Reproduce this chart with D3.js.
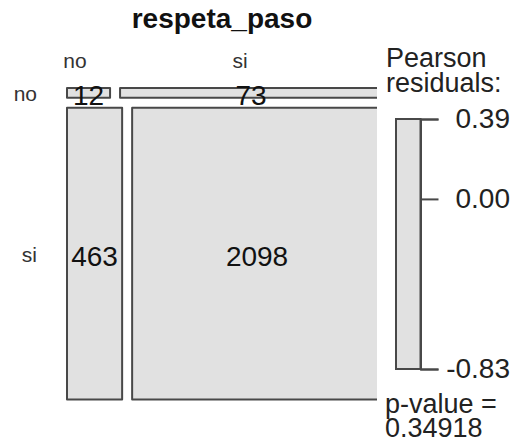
<!DOCTYPE html>
<html>
<head>
<meta charset="utf-8">
<script src="https://cdn.jsdelivr.net/npm/d3@7"></script>
<style>
  html, body { margin: 0; padding: 0; background: #fff; }
  svg { display: block; font-family: "Liberation Sans", Arial, Helvetica, sans-serif; }
</style>
</head>
<body>
<svg id="chart" width="517" height="446"></svg>
<script>
// ---- data ----
const title = "respeta_paso";
const rowCats = ["no", "si"];
const colCats = ["no", "si"];
const counts = [
  [12, 73],
  [463, 2098]
];
const residualRange = [-0.83, 0.39];
const residualTicks = [0.39, 0.00, -0.83];
const legendTitle = ["Pearson", "residuals:"];
const pValueLines = ["p-value =", "0.34918"];

// ---- layout ----
const svg = d3.select("#chart");
const X0 = 67, X1 = 382, Y0 = 88, Y1 = 399.5, GAP = 10;
const CLIP_X = 377;
const fill = "#e1e1e1", stroke = "#484848";

const rowTotals = counts.map(r => d3.sum(r));
const total = d3.sum(rowTotals);

const availH = (Y1 - Y0) - GAP * (rowCats.length - 1);
const yProp = d3.scaleLinear().domain([0, 1]).range([0, availH]);

svg.append("defs").append("clipPath").attr("id", "plotclip")
  .append("rect").attr("x", 0).attr("y", 0).attr("width", CLIP_X).attr("height", 446);

const tilesG = svg.append("g").attr("clip-path", "url(#plotclip)");
const labelsG = svg.append("g");

const tiles = [];
let cumRow = 0;
rowCats.forEach((rc, i) => {
  const y = Y0 + yProp(cumRow / total) + i * GAP;
  const h = yProp(rowTotals[i] / total);
  cumRow += rowTotals[i];
  const availW = (X1 - X0) - GAP * (colCats.length - 1);
  const xProp = d3.scaleLinear().domain([0, rowTotals[i]]).range([0, availW]);
  let cumCol = 0;
  colCats.forEach((cc, j) => {
    const x = X0 + xProp(cumCol) + j * GAP;
    const w = xProp(counts[i][j]);
    cumCol += counts[i][j];
    tiles.push({ i, j, x, y, w, h, v: counts[i][j] });
  });
});

tilesG.selectAll("rect.tile").data(tiles).join("rect")
  .attr("class", "tile")
  .attr("x", d => d.x).attr("y", d => d.y)
  .attr("width", d => d.w).attr("height", d => d.h)
  .attr("fill", fill).attr("stroke", stroke).attr("stroke-width", 2)
  .attr("stroke-linejoin", "round");

labelsG.selectAll("text.cell").data(tiles).join("text")
  .attr("class", "cell")
  .attr("x", d => d.x + d.w / 2)
  .attr("y", d => d.y + d.h / 2 + 2.5)
  .attr("dy", "0.35em")
  .attr("text-anchor", "middle")
  .attr("font-size", 28)
  .attr("fill", "#111")
  .text(d => d.v);

// title
svg.append("text")
  .attr("x", 222).attr("y", 28)
  .attr("text-anchor", "middle")
  .attr("font-size", 28).attr("font-weight", "bold")
  .attr("fill", "#111")
  .text(title);

// column labels
const colLabelX = [75, 240];
svg.selectAll("text.collab").data(colCats).join("text")
  .attr("class", "collab")
  .attr("x", (d, j) => colLabelX[j]).attr("y", 68)
  .attr("text-anchor", "middle")
  .attr("font-size", 21).attr("fill", "#333")
  .text(d => d);

// row labels
const rowCenters = rowCats.map((rc, i) => {
  const t = tiles.find(t => t.i === i);
  return t.y + t.h / 2;
});
svg.selectAll("text.rowlab").data(rowCats).join("text")
  .attr("class", "rowlab")
  .attr("x", 37).attr("y", (d, i) => rowCenters[i] + 8)
  .attr("text-anchor", "end")
  .attr("font-size", 21).attr("fill", "#333")
  .text(d => d);

// ---- legend ----
const LX0 = 396, LX1 = 420.5, LY0 = 119, LY1 = 369;
const ly = d3.scaleLinear().domain([residualRange[1], residualRange[0]]).range([LY0, LY1]);
const lg = svg.append("g");
lg.append("rect")
  .attr("x", LX0).attr("y", ly(residualRange[1]))
  .attr("width", LX1 - LX0).attr("height", ly(residualRange[0]) - ly(residualRange[1]))
  .attr("fill", fill).attr("stroke", stroke).attr("stroke-width", 2);

const fmt = d3.format(".2f");
const axis = d3.axisRight(ly).tickValues(residualTicks).tickSize(18).tickPadding(0)
  .tickFormat(d => fmt(d).replace("\u2212", "-"));
const ax = lg.append("g").attr("transform", `translate(${LX1},0)`).call(axis);
ax.select(".domain").attr("stroke", stroke).attr("stroke-width", 2);
ax.selectAll(".tick line").attr("stroke", stroke).attr("stroke-width", 2);
ax.selectAll(".tick text")
  .attr("x", 510 - LX1).attr("text-anchor", "end")
  .attr("font-size", 28).attr("fill", "#222")
  .attr("font-family", "Liberation Sans, Arial, sans-serif");

lg.selectAll("text.ltitle").data(legendTitle).join("text")
  .attr("class", "ltitle")
  .attr("x", 386).attr("y", (d, i) => 67 + i * 25)
  .attr("font-size", 27).attr("fill", "#222")
  .text(d => d);

lg.selectAll("text.pval").data(pValueLines).join("text")
  .attr("class", "pval")
  .attr("x", 385).attr("y", (d, i) => 413 + i * 24)
  .attr("font-size", 27).attr("fill", "#222")
  .text(d => d);
</script>
</body>
</html>
